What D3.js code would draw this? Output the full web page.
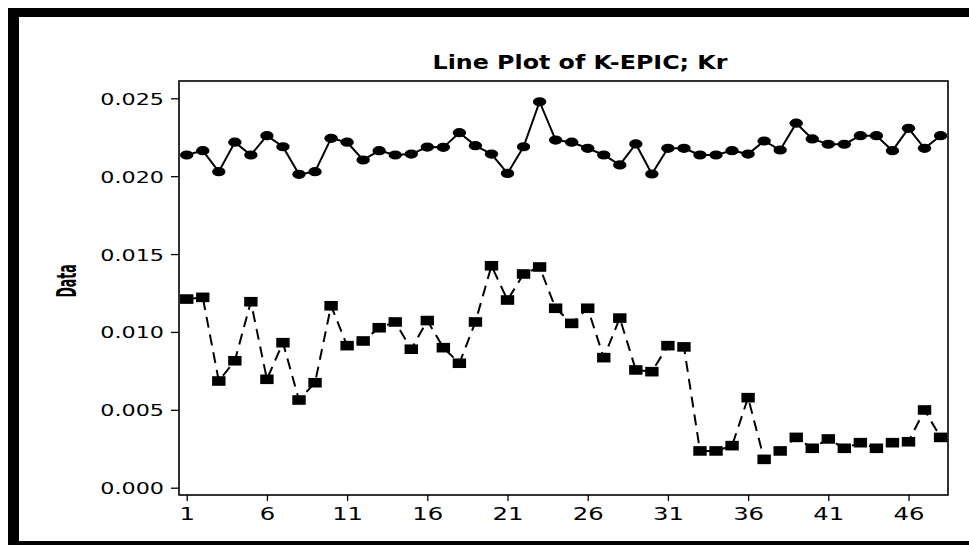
<!DOCTYPE html>
<html>
<head>
<meta charset="utf-8">
<script src="https://cdn.jsdelivr.net/npm/d3@7"></script>
<style>
html,body{margin:0;padding:0;background:#fff;overflow:hidden;}
svg{display:block;}
</style>
</head>
<body>
<svg id="chart" width="969" height="545"></svg>
<script>
const indices = d3.range(1, 49);
const xTickValues = [1, 6, 11, 16, 21, 26, 31, 36, 41, 46];
const yTickValues = [0, 0.005, 0.010, 0.015, 0.020, 0.025];
const titleText = "Line Plot of K-EPIC; Kr";
const yLabelText = "Data";

const seriesK = [0.02136,0.02164,0.02029,0.02218,0.02136,0.02260,0.02189,0.02012,0.02029,0.02243,
                 0.02218,0.02104,0.02164,0.02136,0.02142,0.02187,0.02185,0.02279,0.02196,0.02142,
                 0.02018,0.02189,0.02478,0.02232,0.02218,0.02179,0.02136,0.02072,0.02207,0.02014,
                 0.02179,0.02179,0.02136,0.02136,0.02164,0.02142,0.02226,0.02168,0.02340,0.02239,
                 0.02205,0.02205,0.02260,0.02260,0.02164,0.02307,0.02179,0.02260];
const seriesKr = [0.01211,0.01222,0.00685,0.00815,0.01194,0.00696,0.00931,0.00563,0.00674,0.01168,
                  0.00912,0.00942,0.01027,0.01064,0.00889,0.01073,0.00899,0.00799,0.01064,0.01425,
                  0.01205,0.01372,0.01417,0.01152,0.01055,0.01152,0.00835,0.01089,0.00756,0.00745,
                  0.00912,0.00904,0.00236,0.00236,0.00270,0.00578,0.00182,0.00236,0.00323,0.00253,
                  0.00313,0.00253,0.00289,0.00253,0.00289,0.00295,0.00499,0.00323];

const svg = d3.select("#chart");
const plot = {left: 179, top: 81, right: 948, bottom: 495};
const SX = 1.35; // horizontal stretch of text

const x = d3.scaleLinear().domain([0.5, 48.5]).range([178.7, 948.6]);
const y = d3.scaleLinear().domain([0, 0.025]).range([487.7, 98.3]);

// outer thick border
svg.append("rect").attr("x", 8).attr("y", 8).attr("width", 961).attr("height", 9).attr("fill", "#000");
svg.append("rect").attr("x", 8).attr("y", 8).attr("width", 11).attr("height", 537).attr("fill", "#000");
svg.append("rect").attr("x", 8).attr("y", 541).attr("width", 961).attr("height", 4).attr("fill", "#000");

// title
svg.append("g").attr("transform", `translate(580,69) scale(1.25,1)`)
  .append("text").attr("text-anchor", "middle")
  .attr("font-family", "DejaVu Sans").attr("font-weight", "bold").attr("font-size", 19)
  .text(titleText);

// y label
svg.append("g").attr("transform", `translate(76,281) scale(2.1,1) rotate(-90)`)
  .append("text").attr("text-anchor", "middle")
  .attr("font-family", "DejaVu Sans").attr("font-weight", "bold").attr("font-size", 12.5)
  .text(yLabelText);

// axes
const yAxis = d3.axisLeft(y).tickValues(yTickValues).tickFormat(d3.format(".3f")).tickSize(8).tickPadding(7);
const gy = svg.append("g").attr("transform", `translate(${plot.left},0)`).call(yAxis);
gy.select(".domain").remove();
gy.selectAll(".tick line").attr("stroke", "#000").attr("stroke-width", 1.3);
gy.selectAll(".tick text").each(function(){
  const t = d3.select(this);
  const txt = t.text();
  const tick = d3.select(this.parentNode);
  t.remove();
  tick.append("g").attr("transform", `translate(-15,0) scale(${SX},1)`)
    .append("text").attr("text-anchor", "end").attr("dy", "0.36em")
    .attr("font-family", "DejaVu Sans").attr("font-size", 16.5).attr("fill", "#000")
    .text(txt);
});

const xAxis = d3.axisBottom(x).tickValues(xTickValues).tickFormat(d3.format("d")).tickSize(6);
const gx = svg.append("g").attr("transform", `translate(0,${plot.bottom})`).call(xAxis);
gx.select(".domain").remove();
gx.selectAll(".tick line").attr("stroke", "#000").attr("stroke-width", 1.3);
gx.selectAll(".tick text").each(function(){
  const t = d3.select(this);
  const txt = t.text();
  const tick = d3.select(this.parentNode);
  t.remove();
  tick.append("g").attr("transform", `translate(0,25) scale(${SX},1)`)
    .append("text").attr("text-anchor", "middle")
    .attr("font-family", "DejaVu Sans").attr("font-size", 18).attr("fill", "#000")
    .text(txt);
});

// frame
svg.append("rect").attr("x", plot.left).attr("y", plot.top)
  .attr("width", plot.right - plot.left).attr("height", plot.bottom - plot.top)
  .attr("fill", "none").attr("stroke", "#000").attr("stroke-width", 1.6);

// lines
const lineK = d3.line().x((d, i) => x(indices[i])).y(d => y(d));
svg.append("path").datum(seriesK).attr("d", lineK)
  .attr("fill", "none").attr("stroke", "#000").attr("stroke-width", 2);
svg.append("path").datum(seriesKr).attr("d", lineK)
  .attr("fill", "none").attr("stroke", "#000").attr("stroke-width", 2)
  .attr("stroke-dasharray", "11,7");

// markers
svg.append("g").selectAll("ellipse").data(seriesK).join("ellipse")
  .attr("cx", (d, i) => x(indices[i])).attr("cy", d => y(d))
  .attr("rx", 6.7).attr("ry", 4.6).attr("fill", "#000");
svg.append("g").selectAll("rect").data(seriesKr).join("rect")
  .attr("x", (d, i) => x(indices[i]) - 6.7).attr("y", d => y(d) - 4.8)
  .attr("width", 13.4).attr("height", 9.6).attr("fill", "#000");
</script>
</body>
</html>
